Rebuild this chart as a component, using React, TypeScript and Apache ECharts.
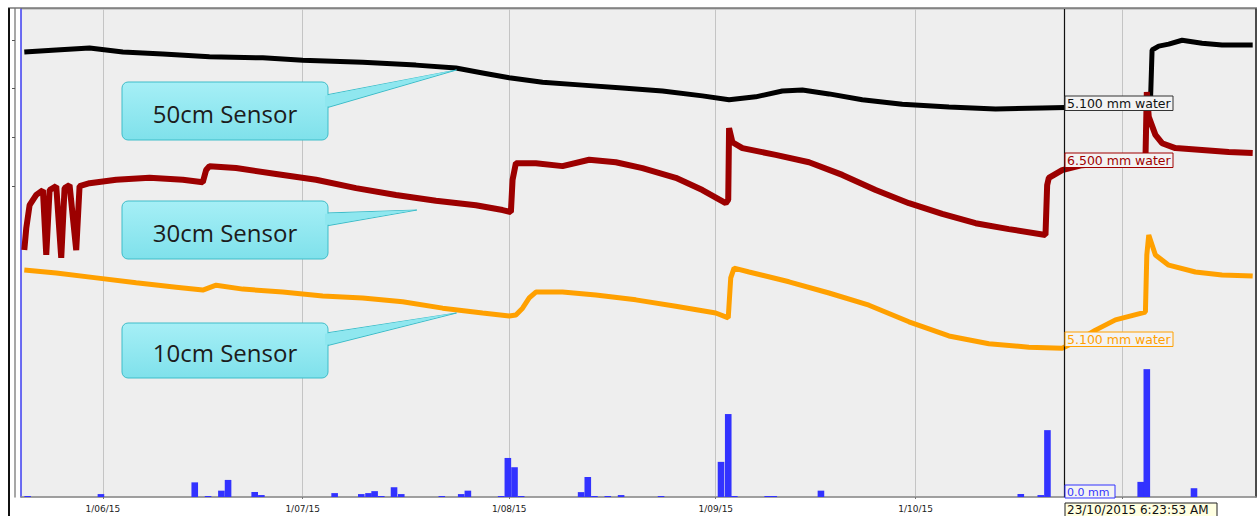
import React, { useEffect, useRef } from 'react';
import * as echarts from 'echarts';

// ---- Data ----
const xStart = '2015-05-20 04:55';
const xEnd = '2015-11-20 14:30';
const cursorTime = '2015-10-23 06:23:53';

const sensor50cm: [string, number][] = [
  ['2015-05-20 04:55', 91.2], ['2015-05-25 00:00', 91.6], ['2015-05-30 00:00', 92.0],
  ['2015-06-04 00:00', 91.2], ['2015-06-10 00:00', 90.8], ['2015-06-17 00:00', 90.2],
  ['2015-06-25 00:00', 90.0], ['2015-07-01 00:00', 89.5], ['2015-07-10 00:00', 89.1],
  ['2015-07-18 00:00', 88.5], ['2015-07-24 00:00', 87.9], ['2015-07-28 00:00', 86.9],
  ['2015-08-01 00:00', 85.9], ['2015-08-06 00:00', 85.0], ['2015-08-12 00:00', 84.4],
  ['2015-08-18 00:00', 83.8], ['2015-08-24 00:00', 83.2], ['2015-08-30 00:00', 82.2],
  ['2015-09-03 00:00', 81.4], ['2015-09-07 00:00', 82.0], ['2015-09-11 00:00', 83.2],
  ['2015-09-14 00:00', 83.4], ['2015-09-18 00:00', 82.6], ['2015-09-23 00:00', 81.4],
  ['2015-09-29 00:00', 80.5], ['2015-10-06 00:00', 79.9], ['2015-10-13 00:00', 79.5],
  ['2015-10-20 00:00', 79.7], ['2015-10-27 00:00', 79.9], ['2015-11-03 00:00', 80.3],
  ['2015-11-05 06:00', 80.7], ['2015-11-05 12:00', 91.6], ['2015-11-06 12:00', 92.4],
  ['2015-11-08 00:00', 92.8], ['2015-11-10 00:00', 93.6], ['2015-11-13 00:00', 93.0],
  ['2015-11-16 00:00', 92.6], ['2015-11-20 14:30', 92.6],
];

const sensor30cm: [string, number][] = [
  ['2015-05-20 04:55', 50.6], ['2015-05-20 12:00', 55.1], ['2015-05-21 00:00', 59.8],
  ['2015-05-22 00:00', 61.9], ['2015-05-23 00:00', 62.9], ['2015-05-23 12:00', 49.6],
  ['2015-05-24 00:00', 62.9], ['2015-05-25 00:00', 63.7], ['2015-05-25 18:00', 49.0],
  ['2015-05-26 06:00', 63.3], ['2015-05-27 00:00', 63.9], ['2015-05-28 00:00', 50.6],
  ['2015-05-28 12:00', 63.7], ['2015-05-30 00:00', 64.3], ['2015-06-03 00:00', 65.0],
  ['2015-06-08 00:00', 65.4], ['2015-06-13 00:00', 65.0], ['2015-06-16 00:00', 64.5],
  ['2015-06-16 12:00', 67.0], ['2015-06-17 00:00', 67.8], ['2015-06-21 00:00', 67.4],
  ['2015-06-27 00:00', 66.2], ['2015-07-03 00:00', 65.0], ['2015-07-09 00:00', 63.3],
  ['2015-07-15 00:00', 61.9], ['2015-07-21 00:00', 60.7], ['2015-07-27 00:00', 59.8],
  ['2015-07-31 00:00', 58.8], ['2015-08-01 06:00', 58.4], ['2015-08-01 12:00', 65.0],
  ['2015-08-02 00:00', 68.4], ['2015-08-05 00:00', 68.4], ['2015-08-09 00:00', 67.8],
  ['2015-08-13 00:00', 69.1], ['2015-08-17 00:00', 68.6], ['2015-08-21 00:00', 67.4],
  ['2015-08-26 00:00', 65.4], ['2015-08-30 00:00', 62.9], ['2015-09-02 12:00', 60.2],
  ['2015-09-02 21:00', 60.9], ['2015-09-03 00:00', 75.6], ['2015-09-03 12:00', 72.7],
  ['2015-09-05 00:00', 71.5], ['2015-09-10 00:00', 70.1], ['2015-09-15 00:00', 68.6],
  ['2015-09-20 00:00', 66.0], ['2015-09-25 00:00', 62.9], ['2015-09-30 00:00', 60.2],
  ['2015-10-05 00:00', 58.0], ['2015-10-10 00:00', 56.1], ['2015-10-15 00:00', 54.9],
  ['2015-10-20 12:00', 53.7], ['2015-10-20 18:00', 63.9], ['2015-10-21 00:00', 65.4],
  ['2015-10-23 00:00', 67.0], ['2015-10-26 00:00', 68.0], ['2015-10-31 00:00', 68.6],
  ['2015-11-04 12:00', 68.9], ['2015-11-04 17:00', 83.0], ['2015-11-05 00:00', 77.9],
  ['2015-11-06 00:00', 74.2], ['2015-11-07 00:00', 72.5], ['2015-11-09 00:00', 71.5],
  ['2015-11-13 00:00', 71.1], ['2015-11-17 00:00', 70.7], ['2015-11-20 14:30', 70.5],
];

const sensor10cm: [string, number][] = [
  ['2015-05-20 04:55', 46.5], ['2015-05-25 00:00', 45.9], ['2015-05-31 00:00', 44.9],
  ['2015-06-06 00:00', 43.9], ['2015-06-12 00:00', 43.0], ['2015-06-16 00:00', 42.4],
  ['2015-06-18 00:00', 43.4], ['2015-06-22 00:00', 42.6], ['2015-06-28 00:00', 42.0],
  ['2015-07-04 00:00', 41.2], ['2015-07-10 00:00', 40.8], ['2015-07-16 00:00', 40.0],
  ['2015-07-22 00:00', 38.7], ['2015-07-28 00:00', 37.7], ['2015-08-01 00:00', 37.1],
  ['2015-08-02 00:00', 37.3], ['2015-08-03 00:00', 38.7], ['2015-08-04 00:00', 40.8],
  ['2015-08-05 00:00', 42.0], ['2015-08-09 00:00', 42.0], ['2015-08-14 00:00', 41.4],
  ['2015-08-20 00:00', 40.4], ['2015-08-26 00:00', 39.1], ['2015-09-01 00:00', 37.7],
  ['2015-09-02 21:00', 36.7], ['2015-09-03 06:00', 44.9], ['2015-09-03 18:00', 46.9],
  ['2015-09-06 00:00', 46.1], ['2015-09-12 00:00', 44.1], ['2015-09-18 00:00', 41.8],
  ['2015-09-24 00:00', 39.3], ['2015-09-30 00:00', 35.9], ['2015-10-06 00:00', 33.0],
  ['2015-10-12 00:00', 31.4], ['2015-10-18 00:00', 30.7], ['2015-10-23 00:00', 30.5],
  ['2015-10-25 00:00', 31.8], ['2015-10-28 00:00', 34.2], ['2015-10-31 00:00', 36.3],
  ['2015-11-04 12:00', 37.9], ['2015-11-04 17:00', 49.6], ['2015-11-05 00:00', 53.7],
  ['2015-11-06 00:00', 49.6], ['2015-11-08 00:00', 47.5], ['2015-11-12 00:00', 46.1],
  ['2015-11-16 00:00', 45.5], ['2015-11-20 14:30', 45.3],
];

const rainfall: [string, number][] = [
  ['2015-05-20 17:00', 0.2], ['2015-05-31 17:00', 0.6], ['2015-06-14 19:00', 3.0],
  ['2015-06-16 19:00', 0.2], ['2015-06-18 19:00', 1.3], ['2015-06-19 19:00', 3.5],
  ['2015-06-23 19:00', 1.0], ['2015-06-24 19:00', 0.4], ['2015-07-05 19:00', 0.8],
  ['2015-07-09 19:00', 0.6], ['2015-07-10 21:00', 0.8], ['2015-07-11 19:00', 1.2],
  ['2015-07-12 19:00', 0.2], ['2015-07-14 17:00', 2.0], ['2015-07-15 19:00', 0.6],
  ['2015-07-21 21:00', 0.2], ['2015-07-24 19:00', 0.6], ['2015-07-25 19:00', 1.3],
  ['2015-07-30 19:00', 0.2], ['2015-07-31 19:00', 8.0], ['2015-08-01 19:00', 6.1],
  ['2015-08-02 19:00', 0.2], ['2015-08-11 19:00', 1.0], ['2015-08-12 19:00', 4.1],
  ['2015-08-13 19:00', 0.2], ['2015-08-15 19:00', 0.2], ['2015-08-17 19:00', 0.4],
  ['2015-08-23 19:00', 0.2], ['2015-09-01 19:00', 7.2], ['2015-09-02 21:00', 17.0],
  ['2015-09-03 19:00', 0.2], ['2015-09-08 19:00', 0.2], ['2015-09-09 17:00', 0.2],
  ['2015-09-16 19:00', 1.3], ['2015-10-16 19:00', 0.6], ['2015-10-19 19:00', 0.4],
  ['2015-10-20 19:00', 13.7], ['2015-11-03 19:00', 3.1], ['2015-11-04 17:00', 26.2],
  ['2015-11-11 19:00', 1.8],
];

const callouts = [
  { text: '50cm Sensor', box: [122, 82, 206, 58], base: [95, 108], tip: ['2015-07-24 02:00', 87.5] },
  { text: '30cm Sensor', box: [122, 201, 206, 58], base: [213, 226], tip: ['2015-07-18 03:00', 58.8] },
  { text: '10cm Sensor', box: [122, 323, 206, 55], base: [333, 346], tip: ['2015-07-24 02:00', 37.7] },
];

const cursorLabels = [
  { text: '5.100 mm water', color: '#111111', border: '#333333', y: 96, w: 108 },
  { text: '6.500 mm water', color: '#a00000', border: '#a00000', y: 153, w: 108 },
  { text: '5.100 mm water', color: '#ffa000', border: '#ffa000', y: 332, w: 108 },
  { text: '0.0 mm', color: '#3333ff', border: '#3333ff', y: 485, w: 50 },
];
const cursorDateText = '23/10/2015 6:23:53 AM';

const toTs = (s: string) => new Date(s.replace(' ', 'T')).getTime();
const pad2 = (n: number) => String(n).padStart(2, '0');

export default function App() {
  const ref = useRef<HTMLDivElement>(null);

  useEffect(() => {
    if (!ref.current) return;
    const chart = echarts.init(ref.current, undefined, { renderer: 'svg' });
    const DAY = 86400000;
    const cursorTs = toTs(cursorTime);

    const option: any = {
      animation: false,
      backgroundColor: '#ffffff',
      grid: [
        { left: 21, right: 3, top: 9, bottom: 19, show: true, backgroundColor: '#eeeeee', borderColor: '#a8a8a8', borderWidth: 1 },
        { left: 15, top: 40, width: 1, height: 146, show: false },
      ],
      xAxis: [
        {
          type: 'time', gridIndex: 0, min: toTs(xStart), max: toTs(xEnd),
          minInterval: 28 * DAY, maxInterval: 31 * DAY,
          position: 'bottom', offset: 3,
          axisLine: { show: true, lineStyle: { color: '#8f8f8f', width: 1.5 } },
          axisTick: { show: true, length: 2, lineStyle: { color: '#777' } },
          axisLabel: {
            fontSize: 9, fontFamily: 'DejaVu Sans', color: '#222', margin: 4,
            showMinLabel: false, showMaxLabel: false,
            formatter: (v: number) => {
              // labels past the cursor are covered by the cursor's date box
              if (v > cursorTs) return '';
              const d = new Date(v);
              return `${d.getDate()}/${pad2(d.getMonth() + 1)}/${String(d.getFullYear()).slice(2)}`;
            },
          },
          splitLine: { show: true, lineStyle: { color: '#c4c4c4', width: 1 } },
        },
        { type: 'value', gridIndex: 1, show: false },
      ],
      yAxis: [
        {
          type: 'value', gridIndex: 0, min: 0, max: 100, position: 'left', offset: 6,
          axisLine: { show: true, lineStyle: { color: '#8a8a8a', width: 1.5 } },
          axisTick: { show: false }, axisLabel: { show: false }, splitLine: { show: false },
        },
        {
          type: 'value', gridIndex: 0, min: 0, max: 100, position: 'left', offset: 0,
          axisLine: { show: true, lineStyle: { color: '#4a4aff', width: 1.5 } },
          axisTick: { show: false }, axisLabel: { show: false }, splitLine: { show: false },
        },
        {
          type: 'value', gridIndex: 0, min: 0, max: 100, position: 'right',
          axisLine: { show: true, lineStyle: { color: '#222', width: 1.5 } },
          axisTick: { show: false }, axisLabel: { show: false }, splitLine: { show: false },
        },
        {
          type: 'value', gridIndex: 1, min: 0, max: 3, interval: 1, position: 'left',
          axisLine: { show: false },
          axisTick: { show: true, length: 3, lineStyle: { color: '#555' } },
          axisLabel: { show: false }, splitLine: { show: false },
        },
      ],
      series: [
        {
          name: 'Rain', type: 'bar', xAxisIndex: 0, yAxisIndex: 1, barWidth: 6.6,
          itemStyle: { color: '#3232ff' }, data: rainfall,
        },
        {
          name: '50cm', type: 'line', xAxisIndex: 0, yAxisIndex: 0, showSymbol: false, symbol: 'none',
          lineStyle: { color: '#000000', width: 5 }, data: sensor50cm,
          markLine: {
            silent: true, symbol: ['none', 'none'], label: { show: false },
            lineStyle: { color: '#111', width: 1.2, type: 'solid' },
            data: [{ xAxis: cursorTs }],
          },
        },
        {
          name: '30cm', type: 'line', xAxisIndex: 0, yAxisIndex: 0, showSymbol: false, symbol: 'none',
          lineStyle: { color: '#9c0000', width: 6 }, data: sensor30cm,
        },
        {
          name: '10cm', type: 'line', xAxisIndex: 0, yAxisIndex: 0, showSymbol: false, symbol: 'none',
          lineStyle: { color: '#ffa000', width: 5 }, data: sensor10cm,
        },
      ],
    };
    chart.setOption(option);

    const cursorX = Math.round((chart.convertToPixel({ xAxisIndex: 0 }, cursorTs) as number)) + 1;

    const graphics: any[] = [];
    // outer frame
    graphics.push({ type: 'line', z: 100, shape: { x1: 9, y1: 8, x2: 9, y2: 516 }, style: { stroke: '#111', lineWidth: 2 } });
    graphics.push({ type: 'line', z: 100, shape: { x1: 8, y1: 8, x2: 1257, y2: 8 }, style: { stroke: '#333', lineWidth: 1 } });

    const fill = new echarts.graphic.LinearGradient(0, 0, 0, 1, [
      { offset: 0, color: '#a6eff6' },
      { offset: 1, color: '#7fe1eb' },
    ]);
    const stroke = '#3fbdc9';
    callouts.forEach((c) => {
      const [bx, by, bw, bh] = c.box;
      const tip = chart.convertToPixel({ xAxisIndex: 0, yAxisIndex: 0 }, [toTs(c.tip[0] as string), c.tip[1] as number]) as number[];
      const right = bx + bw;
      const pts = [[right - 2, c.base[0]], [tip[0], tip[1]], [right - 2, c.base[1]]];
      graphics.push({ type: 'polygon', z: 101, shape: { points: pts }, style: { fill: '#8fe7ef', stroke, lineWidth: 1 } });
      graphics.push({ type: 'rect', z: 102, shape: { x: bx, y: by, width: bw, height: bh, r: 6 }, style: { fill, stroke, lineWidth: 1 } });
      graphics.push({ type: 'polygon', z: 103, shape: { points: [[right - 3, c.base[0] + 0.8], [tip[0] - 3, tip[1] + 0.2], [right - 3, c.base[1] - 0.8]] }, style: { fill: '#8fe7ef' } });
      graphics.push({
        type: 'text', z: 104, x: bx + bw / 2, y: by + bh / 2 + 2,
        style: { text: c.text, font: '24px "Open Sans"', fill: '#1c1c1c', textAlign: 'center', textVerticalAlign: 'middle' },
      });
    });

    cursorLabels.forEach((l) => {
      const h = l.text === '0.0 mm' ? 13 : 14.5;
      graphics.push({ type: 'rect', z: 105, shape: { x: cursorX, y: l.y, width: l.w, height: h }, style: { fill: '#f3f3f3', stroke: l.border, lineWidth: 1 } });
      graphics.push({
        type: 'text', z: 106, x: cursorX + 2, y: l.y + h / 2 + 0.5,
        style: { text: l.text, font: `${l.text === '0.0 mm' ? 11 : 12.5}px "DejaVu Sans"`, fill: l.color, textVerticalAlign: 'middle' },
      });
    });
    graphics.push({ type: 'rect', z: 105, shape: { x: cursorX, y: 503, width: 152, height: 16 }, style: { fill: '#ffffe1', stroke: '#222', lineWidth: 1 } });
    graphics.push({
      type: 'text', z: 106, x: cursorX + 2, y: 509.5,
      style: { text: cursorDateText, font: '12px "DejaVu Sans"', fill: '#111', textVerticalAlign: 'middle' },
    });

    chart.setOption({ graphic: { elements: graphics } });

    return () => chart.dispose();
  }, []);

  return <div ref={ref} style={{ position: 'absolute', left: 0, top: 0, width: 1259, height: 516 }} />;
}
